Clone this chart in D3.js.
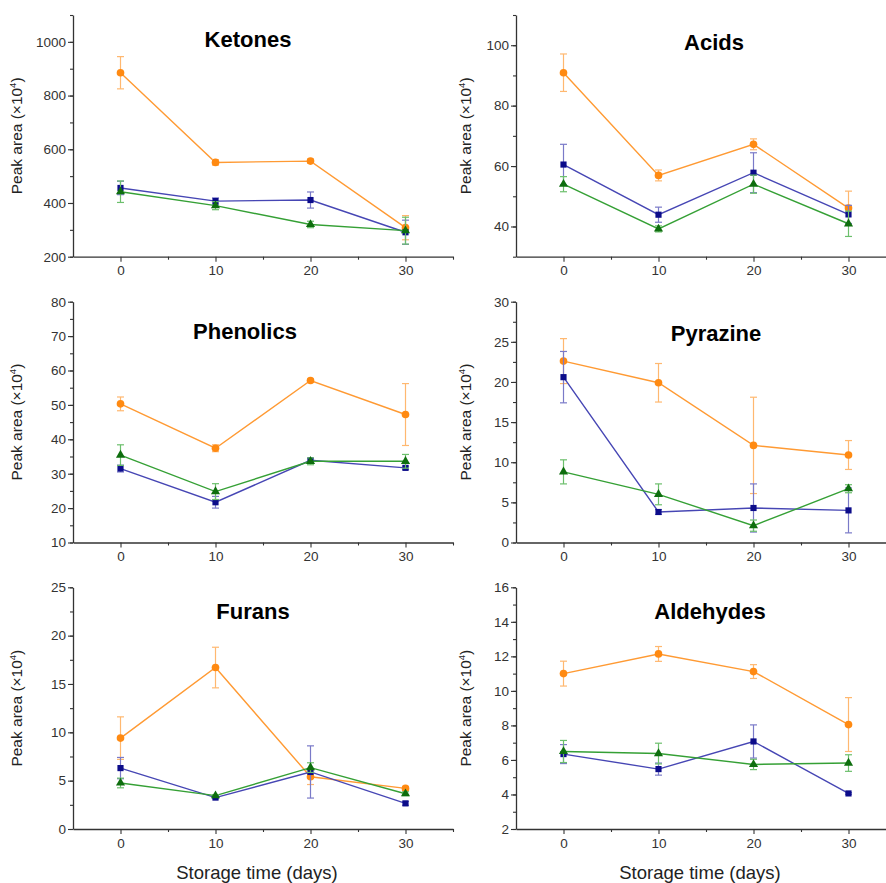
<!DOCTYPE html>
<html>
<head>
<meta charset="utf-8">
<script src="https://cdn.jsdelivr.net/npm/d3@7"></script>
<style>
  body { margin: 0; background: #fff; }
  svg { display: block; font-family: "Liberation Sans", Arial, sans-serif; }
</style>
</head>
<body>
<svg id="chart"></svg>
<script>
// storage time (days)
const days = [0, 10, 20, 30]

// compound groups, one panel each
const compounds = ["Ketones", "Acids", "Phenolics", "Pyrazine", "Furans", "Aldehydes"]

// y ranges and tick steps per panel (major, minor)
const yDomains = [[200, 1100], [30, 110], [10, 80], [0, 30], [0, 25], [2, 16]]
const yMajor = [200, 20, 10, 5, 5, 2]
const yMinor = [100, 10, 5, 2.5, 2.5, 1]
const yTickMin = [200, 40, 10, 0, 0, 2]

// orange circles
const orangeMean = [
  [885, 551, 556, 308],
  [90.9, 56.9, 67.2, 46.1],
  [50.3, 37.4, 57.1, 47.2],
  [22.6, 19.9, 12.1, 10.9],
  [9.4, 16.7, 5.4, 4.2],
  [11.0, 12.14, 11.12, 8.05]
]
const orangeErr = [
  [60, 10, 8, 45],
  [6.2, 1.8, 1.8, 5.6],
  [2, 1, 0.5, 9],
  [2.8, 2.4, 6, 1.8],
  [2.2, 2.1, 0.8, 0.2],
  [0.72, 0.43, 0.4, 1.56]
]

// blue squares
const blueMean = [
  [456, 407, 411, 291],
  [60.5, 43.9, 57.8, 44.0],
  [31.5, 21.7, 33.9, 31.7],
  [20.6, 3.8, 4.3, 4.0],
  [6.3, 3.25, 5.9, 2.65],
  [6.34, 5.47, 7.07, 4.06]
]
const blueErr = [
  [25, 12, 30, 45],
  [6.7, 2.5, 6.6, 3],
  [1, 1.7, 0.5, 0.5],
  [3.2, 0.3, 3, 2.8],
  [1.1, 0.1, 2.7, 0.2],
  [0.55, 0.35, 0.96, 0.05]
]

// green triangles
const greenMean = [
  [442, 390, 320, 297],
  [54.0, 39.2, 54.0, 40.9],
  [35.4, 24.8, 33.6, 33.6],
  [8.8, 6.0, 2.1, 6.7],
  [4.76, 3.45, 6.35, 3.65],
  [6.49, 6.37, 5.74, 5.82]
]
const greenErr = [
  [40, 15, 12, 50],
  [2.5, 1, 3, 4.2],
  [3, 2.3, 1, 2],
  [1.5, 1.3, 0.7, 0.5],
  [0.5, 0.1, 0.5, 0.2],
  [0.64, 0.6, 0.3, 0.48]
]

const width = 886
const height = 883

const svg = d3.select("#chart")
  .attr("width", width)
  .attr("height", height)

// panel frames: left edge of the y axis, top and bottom of the plot
const colX = [73, 516]
const rows = [[15, 256.7], [301.7, 542.5], [587.3, 829]]
const plotW = 380
const titlePos = [[248, 47], [714, 50], [245, 339], [716, 341], [253, 619], [710, 619]]

const series = [
  {mean: orangeMean, err: orangeErr, line: "#ff9a33", mark: "#ff8a12", errColor: "#ffb870", symbol: d3.symbolCircle, size: 46},
  {mean: blueMean, err: blueErr, line: "#4646b4", mark: "#0c0c8a", errColor: "#7a7ac8", symbol: d3.symbolSquare, size: 38},
  {mean: greenMean, err: greenErr, line: "#35a035", mark: "#0e6e0e", errColor: "#6cbf6c", symbol: d3.symbolTriangle, size: 36}
]

function range(start, stop, step) {
  const out = []
  for (let v = start; v <= stop + 1e-9; v += step) out.push(+v.toFixed(4))
  return out
}

compounds.forEach((name, i) => {
  const col = i % 2
  const row = Math.floor(i / 2)
  const left = colX[col]
  const [top, bottom] = rows[row]

  const x = d3.scaleLinear().domain([-5, 35]).range([left, left + plotW])
  const y = d3.scaleLinear().domain(yDomains[i]).range([bottom, top])

  const g = svg.append("g")

  // minor ticks
  g.append("g")
    .attr("transform", `translate(${left},0)`)
    .call(d3.axisLeft(y).tickValues(range(yDomains[i][0], yDomains[i][1], yMinor[i])).tickSize(3).tickSizeOuter(0).tickFormat(""))
    .call(a => a.select(".domain").remove())
  g.append("g")
    .attr("transform", `translate(0,${bottom})`)
    .call(d3.axisBottom(x).tickValues([5, 15, 25, 35]).tickSize(3).tickSizeOuter(0).tickFormat(""))
    .call(a => a.select(".domain").remove())

  // major axes
  g.append("g")
    .attr("transform", `translate(${left},0)`)
    .call(d3.axisLeft(y).tickValues(range(yTickMin[i], yDomains[i][1], yMajor[i])).tickSize(5).tickSizeOuter(0).tickPadding(2).tickFormat(d3.format("d")))
  g.append("g")
    .attr("transform", `translate(0,${bottom})`)
    .call(d3.axisBottom(x).tickValues(days).tickSize(5).tickSizeOuter(0).tickPadding(4).tickFormat(d3.format("d")))

  g.selectAll(".domain").attr("stroke", "#333").attr("stroke-width", 1.3)
  g.selectAll(".tick line").attr("stroke", "#333").attr("stroke-width", 1.1)
  g.selectAll(".tick text").attr("font-size", 13.5).attr("fill", "#333")
    .attr("font-family", "Liberation Sans, Arial, sans-serif")

  // y axis label
  const yl = g.append("text")
    .attr("transform", `translate(${left - (col ? 45 : 51)},${(top + bottom) / 2}) rotate(-90)`)
    .attr("text-anchor", "middle")
    .attr("font-size", 15.5)
    .attr("fill", "#222")
  yl.append("tspan").text("Peak area (×10")
  yl.append("tspan").attr("font-size", 9.5).attr("dy", -6).text("4")
  yl.append("tspan").attr("dy", 6).text(")")

  // panel title
  g.append("text")
    .attr("x", titlePos[i][0])
    .attr("y", titlePos[i][1])
    .attr("text-anchor", "middle")
    .attr("font-size", 22)
    .attr("font-weight", "bold")
    .attr("fill", "#000")
    .text(name)

  series.forEach(s => {
    const pts = days.map((d, k) => ({d, v: s.mean[i][k], e: s.err[i][k]}))

    g.append("path")
      .datum(pts)
      .attr("fill", "none")
      .attr("stroke", s.line)
      .attr("stroke-width", 1.4)
      .attr("d", d3.line().x(p => x(p.d)).y(p => y(p.v)))

    const eb = g.append("g").attr("stroke", s.errColor).attr("stroke-width", 1.2)
    eb.selectAll("line.v").data(pts).enter().append("line")
      .attr("x1", p => x(p.d)).attr("x2", p => x(p.d))
      .attr("y1", p => y(p.v - p.e)).attr("y2", p => y(p.v + p.e))
    eb.selectAll("line.t").data(pts).enter().append("line")
      .attr("x1", p => x(p.d) - 3.5).attr("x2", p => x(p.d) + 3.5)
      .attr("y1", p => y(p.v + p.e)).attr("y2", p => y(p.v + p.e))
    eb.selectAll("line.b").data(pts).enter().append("line")
      .attr("x1", p => x(p.d) - 3.5).attr("x2", p => x(p.d) + 3.5)
      .attr("y1", p => y(p.v - p.e)).attr("y2", p => y(p.v - p.e))

    g.append("g").selectAll("path").data(pts).enter().append("path")
      .attr("transform", p => `translate(${x(p.d)},${y(p.v)})`)
      .attr("d", d3.symbol().type(s.symbol).size(s.size))
      .attr("fill", s.mark)
  })

  // x axis title on bottom row
  if (row === 2) {
    g.append("text")
      .attr("x", x(15) - 6)
      .attr("y", 879)
      .attr("text-anchor", "middle")
      .attr("font-size", 18.5)
      .attr("fill", "#222")
      .text("Storage time (days)")
  }
})
</script>
</body>
</html>
